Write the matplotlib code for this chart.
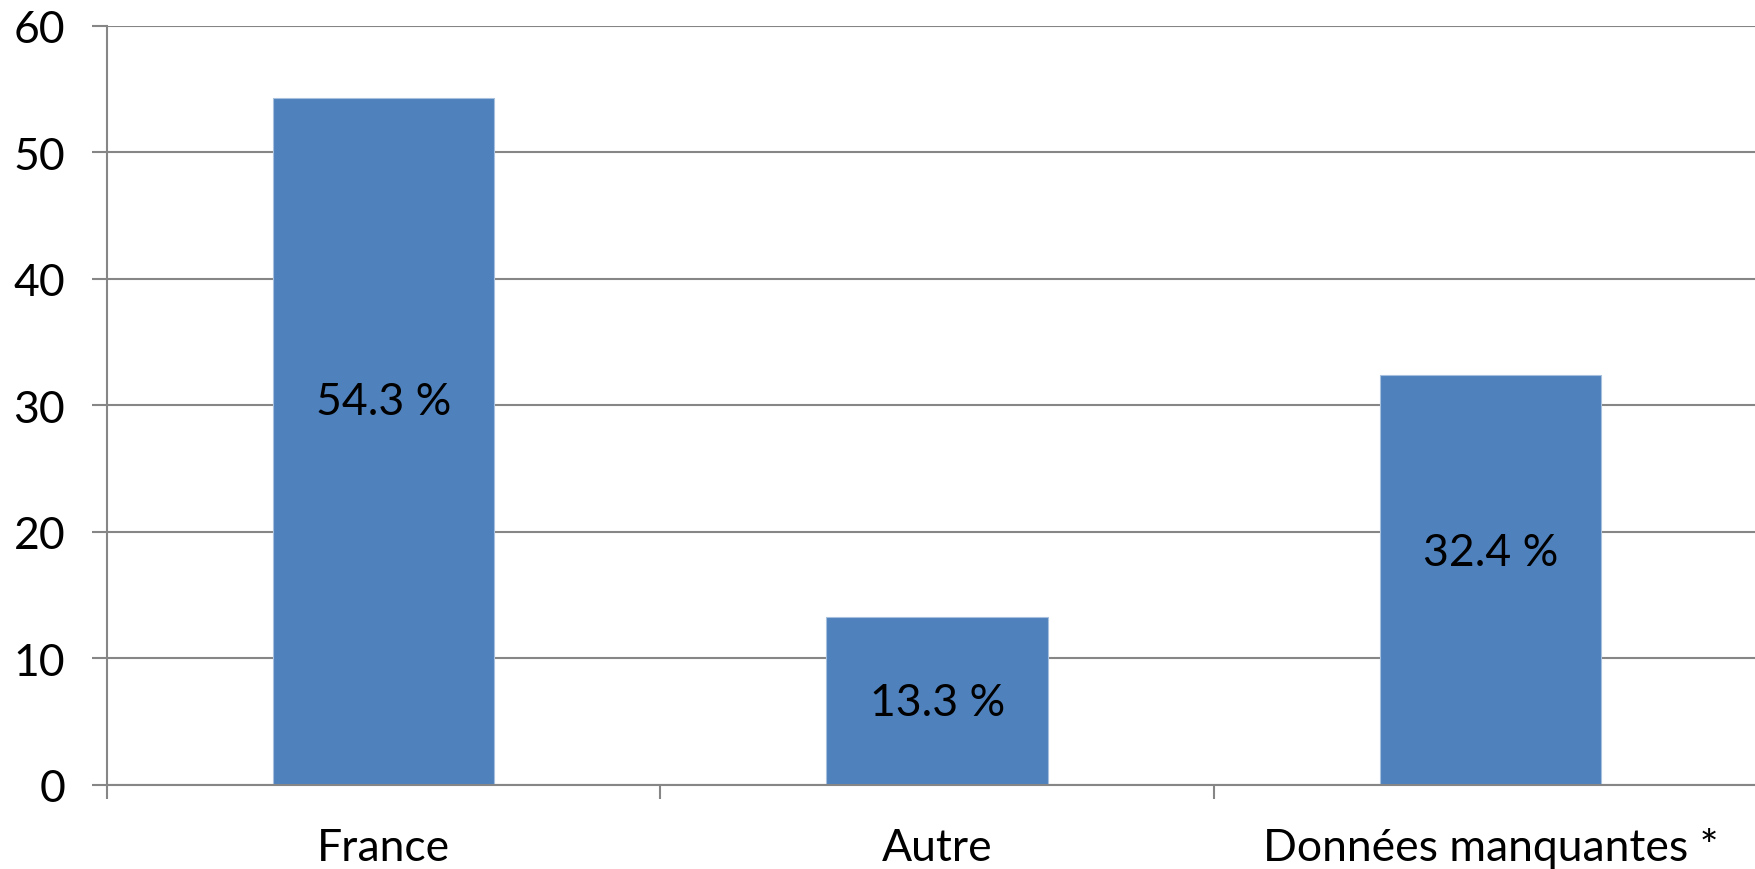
import matplotlib
matplotlib.use('Agg')
import matplotlib.pyplot as plt
import numpy as np

plt.rcParams['font.family'] = ['Lato', 'DejaVu Sans']

categories = ['France', 'Autre', 'Données manquantes *']
values = [54.3, 13.3, 32.4]
bar_labels = ['54.3 %', '13.3 %', '32.4 %']
# where the data labels sit inside the bars (y units)
label_y = [30.3, 6.5, 18.4]
y_ticks = [0, 10, 20, 30, 40, 50, 60]

grid_col = '#868686'
bar_col = '#4F81BD'

fig = plt.figure(figsize=(17.56, 8.70), dpi=100)
ax = fig.add_axes([0.0609, 0.0966, 0.9456, 0.8725])

x = np.arange(len(categories))
ax.bar(x, values, width=0.4, color=bar_col, edgecolor='#A7C0DE', linewidth=0.8, zorder=3)

for xi, ly, txt in zip(x, label_y, bar_labels):
    ax.text(xi, ly, txt, ha='center', va='center', fontsize=32, color='black', zorder=4)

ax.set_xlim(-0.5, len(categories) - 0.5)
ax.set_ylim(0, 60)

ax.set_yticks(y_ticks)
ax.yaxis.grid(True, color=grid_col, linewidth=1.5, zorder=0)
ax.tick_params(axis='y', length=11, width=1.5, color=grid_col, labelsize=32, pad=19)

# category boundaries as major ticks, names as minor ticks
ax.set_xticks(np.arange(-0.5, len(categories), 1.0))
ax.set_xticklabels([])
ax.set_xticks(x, minor=True)
ax.set_xticklabels(categories, minor=True)
ax.tick_params(axis='x', which='major', length=10, width=1.5, color=grid_col)
ax.tick_params(axis='x', which='minor', length=0, labelsize=32, pad=30)

for side in ['top', 'right']:
    ax.spines[side].set_visible(False)
for side in ['left', 'bottom']:
    ax.spines[side].set_color(grid_col)
    ax.spines[side].set_linewidth(1.5)
    ax.spines[side].set_zorder(5)

ax.set_axisbelow(True)

fig.savefig('out.png', dpi=100, facecolor='white')
